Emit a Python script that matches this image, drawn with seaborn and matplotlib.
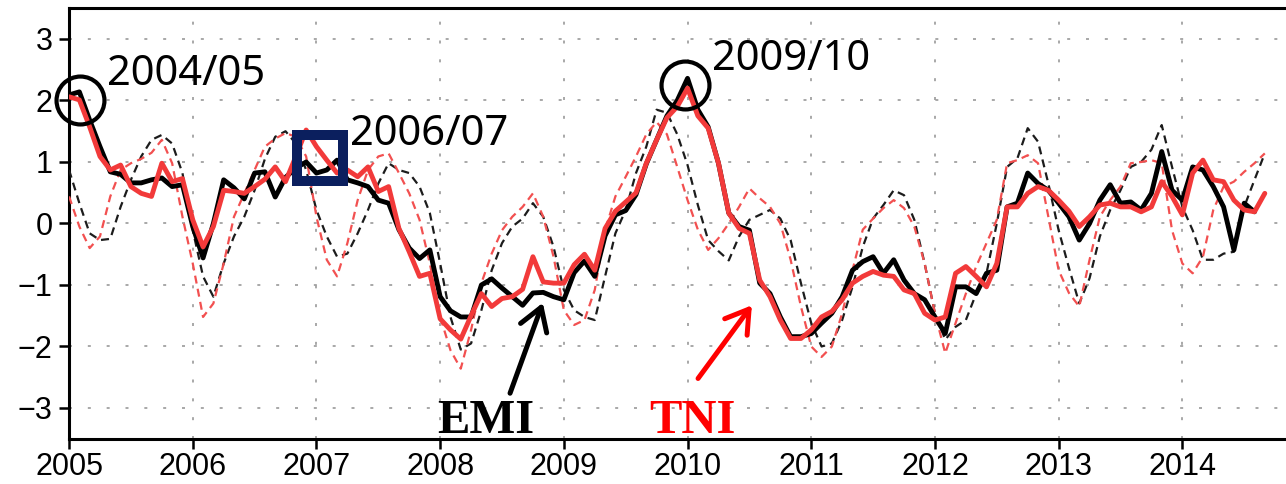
import numpy as np
import pandas as pd
import matplotlib
matplotlib.use("Agg")
import matplotlib.pyplot as plt
import seaborn as sns

# ---------------- data (monthly, Jan 2005 - Sep 2014) ----------------
start_month = "2005-01"
n_months = 117

emi = [2.09, 2.14, 1.68, 1.25, 0.84, 0.80, 0.66, 0.66, 0.71, 0.74, 0.60, 0.63,
       -0.05, -0.56, 0.00, 0.71, 0.58, 0.40, 0.82, 0.84, 0.43, 0.75, 0.90, 1.00,
       0.82, 0.87, 1.03, 0.71, 0.66, 0.60, 0.38, 0.33, -0.10, -0.40, -0.57, -0.43,
       -1.19, -1.42, -1.52, -1.52, -1.00, -0.90, -1.05, -1.19, -1.33, -1.13, -1.12, -1.19,
       -1.24, -0.80, -0.61, -0.86, -0.20, 0.14, 0.21, 0.47, 0.97, 1.36, 1.75, 2.00,
       2.36, 1.85, 1.57, 0.98, 0.17, -0.05, -0.11, -0.97, -1.14, -1.52, -1.84, -1.84,
       -1.79, -1.62, -1.46, -1.19, -0.76, -0.62, -0.54, -0.81, -0.59, -0.92, -1.14, -1.24,
       -1.52, -1.79, -1.03, -1.03, -1.14, -0.81, -0.76, 0.27, 0.33, 0.82, 0.65, 0.54,
       0.33, 0.11, -0.27, 0.00, 0.38, 0.63, 0.33, 0.35, 0.22, 0.49, 1.17, 0.54,
       0.38, 0.92, 0.87, 0.60, 0.27, -0.43, 0.33, 0.19, np.nan]

tni = [2.06, 2.01, 1.57, 1.09, 0.87, 0.95, 0.60, 0.49, 0.44, 0.98, 0.68, 0.73,
       0.06, -0.38, -0.05, 0.54, 0.52, 0.49, 0.60, 0.72, 0.92, 0.68, 1.09, 1.52,
       1.25, 1.03, 0.82, 0.87, 0.76, 0.92, 0.52, 0.60, -0.08, -0.46, -0.86, -0.81,
       -1.55, -1.73, -1.88, -1.50, -1.14, -1.35, -1.22, -1.19, -1.07, -0.54, -0.95, -0.97,
       -0.97, -0.67, -0.50, -0.76, -0.08, 0.20, 0.35, 0.50, 0.98, 1.36, 1.72, 1.90,
       2.20, 1.75, 1.55, 0.98, 0.17, -0.08, -0.16, -0.92, -1.19, -1.57, -1.87, -1.87,
       -1.73, -1.52, -1.43, -1.24, -0.97, -0.86, -0.78, -0.84, -0.86, -1.08, -1.14, -1.46,
       -1.57, -1.52, -0.81, -0.70, -0.86, -1.03, -0.65, 0.27, 0.27, 0.49, 0.60, 0.54,
       0.38, 0.20, -0.05, 0.11, 0.30, 0.33, 0.27, 0.27, 0.19, 0.27, 0.68, 0.44,
       0.14, 0.82, 1.03, 0.71, 0.68, 0.38, 0.22, 0.19, 0.49]

emi_dashed = [0.87, 0.33, -0.16, -0.27, -0.25, 0.27, 0.71, 1.09, 1.36, 1.44, 1.30, 0.82,
              -0.11, -0.86, -1.19, -0.65, -0.21, 0.11, 0.54, 1.05, 1.41, 1.50, 1.30, 0.87,
              0.22, -0.21, -0.54, -0.49, -0.16, 0.22, 0.65, 0.98, 0.87, 0.82, 0.60, 0.17,
              -0.65, -1.52, -2.05, -1.95, -1.41, -0.76, -0.32, -0.05, 0.08, 0.33, 0.11, -0.38,
              -1.08, -1.41, -1.52, -1.57, -0.86, -0.16, 0.22, 0.82, 1.25, 1.85, 1.80, 1.45,
              0.95, 0.30, -0.27, -0.45, -0.60, -0.21, 0.06, 0.14, 0.22, 0.08, -0.27, -0.97,
              -1.62, -2.00, -1.95, -1.57, -1.03, -0.38, 0.08, 0.30, 0.54, 0.46, 0.06, -0.65,
              -1.46, -1.89, -1.68, -1.57, -1.14, -0.81, 0.00, 0.92, 1.06, 1.55, 1.33, 0.65,
              -0.11, -0.72, -1.30, -0.89, -0.21, 0.22, 0.54, 0.92, 1.00, 1.20, 1.60, 0.92,
              0.27, -0.11, -0.59, -0.59, -0.49, -0.46, 0.27, 0.71, 1.14]

tni_dashed = [0.44, -0.05, -0.40, -0.21, 0.44, 0.87, 0.98, 1.05, 1.15, 1.36, 0.98, 0.11,
              -0.65, -1.52, -1.30, -0.65, 0.11, 0.49, 0.87, 1.25, 1.38, 1.47, 1.41, 1.09,
              0.11, -0.59, -0.86, -0.32, 0.38, 0.87, 1.09, 1.14, 0.82, 0.49, 0.06, -0.65,
              -1.52, -2.06, -2.36, -1.73, -0.97, -0.49, -0.11, 0.11, 0.27, 0.49, 0.11, -0.54,
              -1.41, -1.65, -1.57, -1.08, -0.11, 0.44, 0.76, 1.09, 1.45, 1.65, 1.45, 0.92,
              0.38, -0.10, -0.43, -0.24, 0.00, 0.27, 0.57, 0.41, 0.27, 0.00, -0.59, -1.35,
              -2.00, -2.17, -2.00, -1.46, -0.76, -0.10, 0.08, 0.25, 0.38, 0.25, -0.05, -0.65,
              -1.46, -2.11, -1.62, -1.14, -0.70, -0.32, 0.06, 0.98, 1.03, 1.11, 0.98, 0.11,
              -0.76, -1.13, -1.35, -0.59, 0.11, 0.38, 0.60, 0.98, 1.00, 1.03, 0.98, -0.11,
              -0.65, -0.81, -0.54, 0.22, 0.60, 0.68, 0.84, 0.98, 1.14]

year_ticks = [2005, 2006, 2007, 2008, 2009, 2010, 2011, 2012, 2013, 2014]
y_ticks = [-3, -2, -1, 0, 1, 2, 3]

event_labels = ["2004/05", "2006/07", "2009/10"]
index_labels = ["EMI", "TNI"]

# ---------------- style ----------------
sns.set_theme(style="white")
plt.rcParams["font.family"] = ["Liberation Sans", "DejaVu Sans"]
plt.rcParams["axes.unicode_minus"] = True

dates = pd.date_range(start_month, periods=n_months, freq="MS")
t = dates.year + (dates.month - 1) / 12.0
df = pd.DataFrame({"t": t, "EMI": emi, "TNI": tni,
                   "EMI_d": emi_dashed, "TNI_d": tni_dashed})

fig = plt.figure(figsize=(12.86, 4.84), dpi=100)
fig.patch.set_facecolor("white")
ax = fig.add_axes([0.0537, 0.0935, 0.9463, 0.8895])
ax.set_facecolor("white")

black = "#000000"
red = "#f23a3a"

sns.lineplot(data=df, x="t", y="EMI_d", ax=ax, color="#1c1c1c", linewidth=1.6,
             linestyle=(0, (3.6, 2.4)), errorbar=None, legend=False, zorder=3)
sns.lineplot(data=df, x="t", y="TNI_d", ax=ax, color="#f25050", linewidth=1.6,
             linestyle=(0, (3.6, 2.4)), errorbar=None, legend=False, zorder=3)
sns.lineplot(data=df, x="t", y="EMI", ax=ax, color=black, linewidth=3.5,
             errorbar=None, legend=False, zorder=4)
sns.lineplot(data=df, x="t", y="TNI", ax=ax, color=red, linewidth=3.5,
             errorbar=None, legend=False, zorder=5)

# axes limits / ticks
ax.set_xlim(2005, 2014.838)
ax.set_ylim(-3.5, 3.5)
ax.set_xticks(year_ticks)
ax.set_xticklabels([str(y) for y in year_ticks])
ax.set_yticks(y_ticks)
ax.set_yticklabels([f"{v:d}".replace("-", "\u2212") for v in y_ticks])
ax.set_xlabel("")
ax.set_ylabel("")

ax.tick_params(axis="both", which="major", direction="out", labelsize=22,
               colors="black", width=1.8, length=7.5)
ax.tick_params(axis="x", pad=2)
ax.tick_params(axis="y", pad=4.5)
ax.xaxis.set_ticks_position("bottom")
ax.yaxis.set_ticks_position("left")

ax.grid(True, color="#9a9a9a", linewidth=1.2, linestyle=(0, (1.8, 9.5)))
ax.set_axisbelow(True)

for side in ["left", "bottom", "top"]:
    ax.spines[side].set_visible(True)
    ax.spines[side].set_color("black")
    ax.spines[side].set_linewidth(2.2)
ax.spines["right"].set_visible(False)

# ---------------- annotations ----------------
ax.plot([2005.089], [2.01], marker="o", markersize=34.5, mfc="none",
        mec="black", mew=3.0, zorder=6, clip_on=False)
ax.plot([2009.98], [2.25], marker="o", markersize=34.5, mfc="none",
        mec="black", mew=3.0, zorder=6, clip_on=False)
ax.plot([2007.03], [1.06], marker="s", markersize=32.5, mfc="none",
        mec="#0b1f5e", mew=7.2, zorder=6, clip_on=False)

label_font = ["Noto Sans", "DejaVu Sans"]
ax.text(2005.307, 2.252, event_labels[0], fontsize=30, family=label_font,
        color="black", ha="left", va="baseline", zorder=7)
ax.text(2007.272, 1.275, event_labels[1], fontsize=30, family=label_font,
        color="black", ha="left", va="baseline", zorder=7)
ax.text(2010.196, 2.496, event_labels[2], fontsize=30, family=label_font,
        color="black", ha="left", va="baseline", zorder=7)

ax.text(2008.367, -3.41, index_labels[0], fontsize=35, fontweight="bold",
        family=["Liberation Serif", "DejaVu Serif"], color="black",
        ha="center", va="baseline", zorder=7)
ax.text(2010.04, -3.41, index_labels[1], fontsize=35, fontweight="bold",
        family=["Liberation Serif", "DejaVu Serif"], color="#ff0000",
        ha="center", va="baseline", zorder=7)

ax.annotate("", xy=(2008.83, -1.29), xytext=(2008.565, -2.76),
            arrowprops=dict(arrowstyle="->,head_length=0.8,head_width=0.5",
                            lw=3.6, color="black", mutation_scale=20,
                            shrinkA=0, shrinkB=0), zorder=7)
ax.annotate("", xy=(2010.52, -1.33), xytext=(2010.085, -2.52),
            arrowprops=dict(arrowstyle="->,head_length=0.8,head_width=0.5",
                            lw=3.6, color="#ff0000", mutation_scale=20,
                            shrinkA=0, shrinkB=0), zorder=7)

fig.savefig("out.png", dpi=100, facecolor="white")
